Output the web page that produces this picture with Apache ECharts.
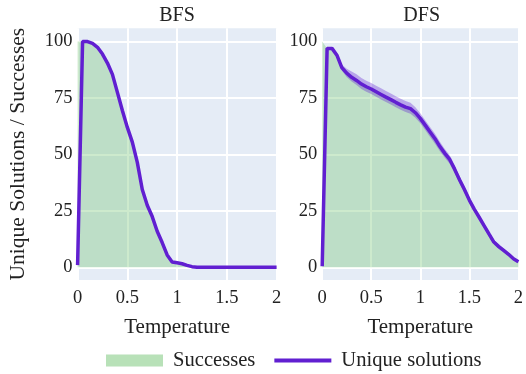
<!DOCTYPE html>
<html>
<head>
<meta charset="utf-8">
<script src="https://cdn.jsdelivr.net/npm/echarts@6/dist/echarts.min.js"></script>
<style>html,body{margin:0;padding:0;background:#fff}#c{width:526px;height:374px}</style>
</head>
<body>
<div id="c"></div>
<script>
// Temperatures (x)
const temps = [0,0.05,0.1,0.15,0.2,0.25,0.3,0.35,0.4,0.45,0.5,0.55,0.6,0.65,0.7,0.75,0.8,0.85,0.9,0.95,1,1.05,1.1,1.15,1.2,1.25,1.3,1.35,1.4,1.45,1.5,1.55,1.6,1.65,1.7,1.75,1.8,1.85,1.9,1.95,2];
// BFS
const bfsUnique = [1,100,100,99.2,97.5,94.5,90.5,85.5,77.5,69.5,62,55.5,46.5,34.5,27.5,22.5,16,11,5.5,2.4,2,1.6,0.9,0.3,0,0,0,0,0,0,0,0,0,0,0,0,0,0,0,0,0];
const bfsSuccess = [100,100,100,99.2,97.5,94.5,90.5,85.5,77.5,69.5,62,55.5,46.5,34.5,27.5,22.5,16,11,5.5,2.4,2,1.6,0.9,0.3,0,0,0,0,0,0,0,0,0,0,0,0,0,0,0,0,0];
// DFS
const dfsUnique = [0.5,97,97,94,88.5,86,84.2,82.8,81.2,80,79,77.8,76.6,75.4,74.3,73.1,72,71,70.3,68.5,66,63,60,57,53.5,50.5,47.8,43.5,38.8,34.5,29.8,25.8,22.2,18.5,14.8,11.2,9.2,7.5,5.8,3.8,2.5];
const dfsSuccess = [100,97,97,94,88.5,86,84.2,82.8,81.2,80,79,77.8,76.6,75.4,74.3,73.1,72,71,70.3,68.5,66,63,60,57,53.5,50.5,47.8,43.5,38.8,34.5,29.8,25.8,22.2,18.5,14.8,11.2,9.2,7.5,5.8,3.8,2.5];
const dfsLower = [0.5,96.5,96.5,93,87.2,84.3,82.3,80.8,79,77.8,76.8,75.6,74.4,73.2,72.1,70.9,69.8,68.8,68.1,66.3,63.8,60.8,57.8,54.8,51.4,48.6,45.9,41.9,37.2,33,28.5,24.7,21.1,17.4,13.7,10.2,8.2,6.6,5,3,1.8];
const dfsUpper = [0.5,97.5,97.5,95,89.9,88,86.8,85.5,83.9,82.7,81.7,80.5,79.3,78.1,77,75.8,74.7,73.7,72.9,70.9,68.3,65.2,62.2,59.2,55.6,52.4,49.7,45.1,40.4,36,31.1,26.9,23.3,19.6,15.9,12.2,10.2,8.4,6.6,4.6,3.2];
const yTicks = [0,25,50,75,100];
const xTicks = [0,0.5,1,1.5,2];
const panelTitles = ['BFS','DFS'];

const FONT = 'Liberation Serif';
const TXT = '#222';
const PURPLE = '#611fd1';
const GREEN = 'rgba(128,202,128,0.56)';
const BAND = 'rgba(98,30,210,0.34)';

const pair = (xs, ys) => xs.map((x,i)=>[x, ys[i]]);

function xAxis(i){
  return {type:'value', gridIndex:i, min:0, max:2, interval:0.5,
    axisLine:{show:false}, axisTick:{show:false},
    axisLabel:{color:TXT, fontFamily:FONT, fontSize:18.5, margin:9},
    splitLine:{show:true, lineStyle:{color:'#fff', width:2}},
    name:'Temperature', nameLocation:'middle', nameGap:37,
    nameTextStyle:{color:TXT, fontFamily:FONT, fontSize:21}};
}
function yAxis(i){
  const a = {type:'value', gridIndex:i, min:-5.6, max:105.9,
    axisLine:{show:false}, axisTick:{show:false, customValues:yTicks},
    axisLabel:{color:TXT, fontFamily:FONT, fontSize:18.5, margin:5, customValues:yTicks},
    splitLine:{show:true, lineStyle:{color:'#fff', width:2}}};
  if(i===0){
    a.name='Unique Solutions / Successes'; a.nameLocation='middle'; a.nameGap=48;
    a.nameTextStyle={color:TXT, fontFamily:FONT, fontSize:21.5};
  }
  return a;
}

const chart = echarts.init(document.getElementById('c'), null, {renderer:'canvas'});
chart.setOption({
  animation:false,
  backgroundColor:'#fff',
  grid:[
    {left:77.6, top:28.3, width:199, height:251.7, show:true, backgroundColor:'#E5ECF6', borderWidth:0},
    {left:322.2, top:28.3, width:199, height:251.7, show:true, backgroundColor:'#E5ECF6', borderWidth:0}
  ],
  xAxis:[xAxis(0), xAxis(1)],
  yAxis:[yAxis(0), yAxis(1)],
  graphic:[
    {type:'text', x:177, y:15.5, style:{text:panelTitles[0], align:'center', verticalAlign:'middle', textAlign:'center', textVerticalAlign:'middle', font:'20px "Liberation Serif"', fill:TXT}},
    {type:'text', x:421.7, y:15.5, style:{text:panelTitles[1], align:'center', verticalAlign:'middle', textAlign:'center', textVerticalAlign:'middle', font:'20px "Liberation Serif"', fill:TXT}}
  ],
  legend:{
    left:106, top:350, padding:0, itemWidth:57, itemHeight:12, itemGap:19,
    textStyle:{color:TXT, fontFamily:FONT, fontSize:20.6, padding:[0,0,0,5]},
    data:[
      {name:'Successes', icon:'rect', itemStyle:{color:GREEN, borderWidth:0}},
      {name:'Unique solutions', icon:'path://M0,0H0.01V0.01H0Z M0,4H57V8H0Z M0,11.99H0.01V12H0Z', itemStyle:{color:PURPLE, borderWidth:0}}
    ]
  },
  series:[
    {name:'Successes', type:'line', xAxisIndex:0, yAxisIndex:0, data:pair(temps,bfsSuccess), symbol:'none',
      lineStyle:{width:0, opacity:0}, itemStyle:{color:GREEN}, areaStyle:{color:GREEN, origin:0}, z:1},
    {name:'Successes', type:'line', xAxisIndex:1, yAxisIndex:1, data:pair(temps,dfsSuccess), symbol:'none',
      lineStyle:{width:0, opacity:0}, itemStyle:{color:GREEN}, areaStyle:{color:GREEN, origin:0}, z:1},
    {name:'DFS band', type:'custom', xAxisIndex:1, yAxisIndex:1, data:[[0,0]], silent:true, clip:true, z:2,
      renderItem:function(params, api){
        const pts = [];
        for(let i=0;i<temps.length;i++) pts.push(api.coord([temps[i], dfsUpper[i]]));
        for(let i=temps.length-1;i>=0;i--) pts.push(api.coord([temps[i], dfsLower[i]]));
        return {type:'polygon', shape:{points:pts}, style:{fill:BAND}};
      }},
    {name:'Unique solutions', type:'line', xAxisIndex:0, yAxisIndex:0, data:pair(temps,bfsUnique), symbol:'none',
      lineStyle:{width:3.5, color:PURPLE}, itemStyle:{color:PURPLE}, z:3},
    {name:'Unique solutions', type:'line', xAxisIndex:1, yAxisIndex:1, data:pair(temps,dfsUnique), symbol:'none',
      lineStyle:{width:3.5, color:PURPLE}, itemStyle:{color:PURPLE}, z:3}
  ]
});
</script>
</body>
</html>
